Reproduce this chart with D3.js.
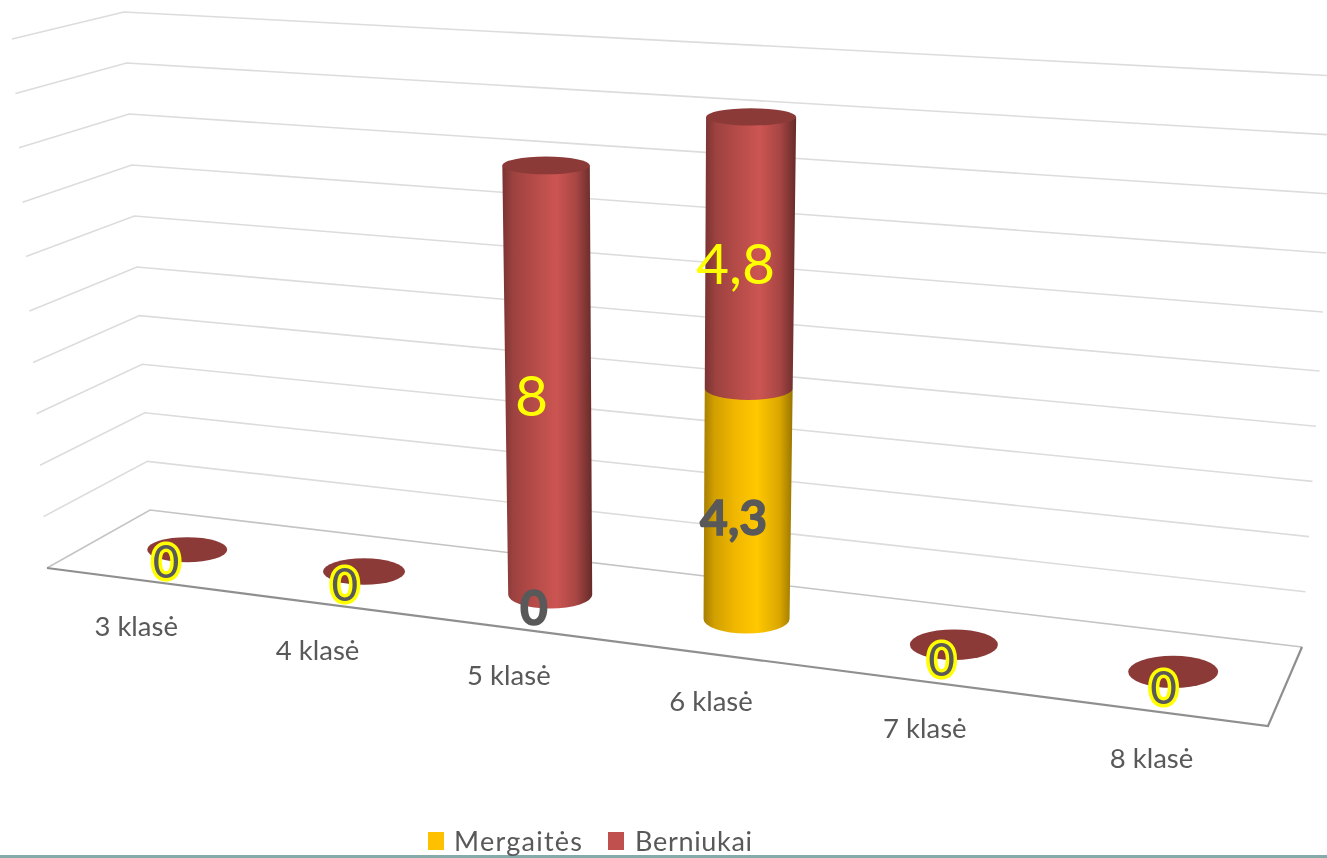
<!DOCTYPE html>
<html lang="en">
<head>
<meta charset="UTF-8" />
<title>Klasės</title>
<style>
  html, body { margin: 0; padding: 0; background: #fff; overflow: hidden; }
  text { font-family: Lato, "Open Sans", sans-serif; }
  #chart { filter: blur(0.45px); }
</style>
</head>
<body>
<svg id="chart" width="1327" height="858"></svg>
<script src="https://d3js.org/d3.v7.min.js"></script>
<script>
const categories = ['3 klasė', '4 klasė', '5 klasė', '6 klasė', '7 klasė', '8 klasė'];
const mergaites = [0, 0, 0, 4.3, 0, 0];
const berniukai = [0, 0, 8, 4.8, 0, 0];
const levels = [0, 1, 2, 3, 4, 5, 6, 7, 8, 9, 10];
const seriesNames = ['Mergaitės', 'Berniukai'];
const decimalComma = d => String(d).replace('.', ',');

const svg = d3.select('#chart');
const defs = svg.append('defs');

// wall corners per level, the walls lean outward a little going up
const backLeftX = d3.scaleLinear().domain([0, 10]).range([150, 124]);
const backLeftY = d3.scaleLinear().domain([0, 5, 10]).range([510, 267, 12]);
const sideLeftX = d3.scaleLinear().domain([0, 10]).range([47, 12]);
const sideLeftY = d3.scaleLinear().domain([0, 5, 10]).range([568, 311, 39]);
const backRightX = d3.scaleLinear().domain([0, 10]).range([1302, 1337]);
const backRightY = d3.scaleLinear().domain([0, 5, 10]).range([647, 371, 76]);

// floor is a quad, map unit square onto it
const quad = [[47, 568], [1268, 726], [1302, 647], [150, 510]];
function makeFloor([p0, p1, p2, p3]) {
  const dx1 = p1[0] - p2[0], dx2 = p3[0] - p2[0], sx = p0[0] - p1[0] + p2[0] - p3[0];
  const dy1 = p1[1] - p2[1], dy2 = p3[1] - p2[1], sy = p0[1] - p1[1] + p2[1] - p3[1];
  const det = dx1 * dy2 - dx2 * dy1;
  const g = (sx * dy2 - dx2 * sy) / det;
  const h = (dx1 * sy - sx * dy1) / det;
  const a = p1[0] - p0[0] + g * p1[0], b = p3[0] - p0[0] + h * p3[0];
  const d = p1[1] - p0[1] + g * p1[1], e = p3[1] - p0[1] + h * p3[1];
  return (u, v) => {
    const w = g * u + h * v + 1;
    return [(a * u + b * v + p0[0]) / w + 2, (d * u + e * v + p0[1]) / w + 1];
  };
}
const floor = makeFloor(quad);
const xBand = d3.scaleBand().domain(categories).range([0, 1]);
const uOf = c => xBand(c) + xBand.bandwidth() / 2;

// pixels per unit depends on how close the foot is to the viewer,
// upper units also come out a little taller than lower ones
const unitPx = d3.scaleLinear().domain([510, 647]).range([47.3, 53.6]);
const lean = 0.0052;
const grow = 0.006;
const lift = ([x, y], val) => [x + (x - 650) * lean * val, y - unitPx(y) * (val + grow * val * val)];

const rx0 = d3.scaleLinear().domain([0, 5]).range([40, 45]);
const ry0 = d3.scaleLinear().domain([0, 5]).range([12.5, 16]);
const radius = (i, val) => [rx0(i) * (1 + lean * val), ry0(i) * (1 - 0.045 * val)];

// gridlines
const grid = svg.append('g').attr('fill', 'none').attr('stroke-width', 1.6);
grid.selectAll('path').data(levels).join('path')
  .attr('d', d => d3.line()([
    [sideLeftX(d), sideLeftY(d)], [backLeftX(d), backLeftY(d)], [backRightX(d), backRightY(d)]
  ]))
  .attr('stroke', d => d === 0 ? '#c4c4c4' : '#dcdcdc');

// floor edges
svg.append('path').attr('fill', 'none').attr('stroke', '#8f8f8f').attr('stroke-width', 2.2)
  .attr('d', d3.line()([quad[0], quad[1], quad[2]]));

// cylinders
function shade(id, stops) {
  const g = defs.append('linearGradient').attr('id', id);
  stops.forEach(([o, c]) => g.append('stop').attr('offset', o).attr('stop-color', c));
}
shade('red', [[0, '#7a3331'], [0.12, '#9c4240'], [0.35, '#b54b48'], [0.6, '#cc5552'], [0.82, '#a84644'], [1, '#652b29']]);
shade('gold', [[0, '#a67e00'], [0.12, '#d19f00'], [0.35, '#f0b700'], [0.6, '#ffc800'], [0.85, '#dba700'], [1, '#9a7600']]);
const sideFill = { Mergaitės: 'url(#gold)', Berniukai: 'url(#red)' };

const bars = svg.append('g');
categories.forEach((c, i) => {
  const foot = floor(uOf(c), 0.5);
  const total = mergaites[i] + berniukai[i];
  if (total === 0) {
    const [rx, ry] = radius(i, 0);
    bars.append('ellipse').attr('cx', foot[0]).attr('cy', foot[1]).attr('rx', rx).attr('ry', ry).attr('fill', '#8c3a38');
    return;
  }
  // lower segment first, the upper one hangs over it with its front arc
  const segs = [
    { name: 'Mergaitės', from: 0, to: mergaites[i], v: mergaites[i] },
    { name: 'Berniukai', from: mergaites[i], to: total, v: berniukai[i] }
  ];
  segs.filter(s => s.v > 0).forEach(s => {
    const [bx, by] = lift(foot, s.from), [tx, ty] = lift(foot, s.to);
    const [brx, bry] = radius(i, s.from), [trx] = radius(i, s.to);
    bars.append('path').attr('fill', sideFill[s.name]).attr('d',
      `M${tx - trx},${ty}L${bx - brx},${by}A${brx},${bry} 0 0 0 ${bx + brx},${by}L${tx + trx},${ty}Z`);
  });
  const [tx, ty] = lift(foot, total), [trx, tryy] = radius(i, total);
  bars.append('ellipse').attr('cx', tx).attr('cy', ty).attr('rx', trx).attr('ry', tryy).attr('fill', '#8c3a38');
});

// data labels, sit a bit in front of the cylinder axis
const labels = svg.append('g').attr('text-anchor', 'middle');
categories.forEach((c, i) => {
  const spot = floor(uOf(c), 0.3);
  const m = mergaites[i], b = berniukai[i];
  if (m === 0 && b === 0) {
    labels.append('text').attr('x', spot[0] - 1).attr('y', spot[1]).attr('dy', '0.36em')
      .attr('font-size', 46).attr('fill', '#595959').attr('stroke', '#ffff00').attr('stroke-width', 7)
      .attr('paint-order', 'stroke').text(0);
    return;
  }
  const mp = lift(spot, m / 2);
  labels.append('text').attr('x', mp[0]).attr('y', mp[1]).attr('dy', '0.36em')
    .attr('font-size', 48).attr('font-weight', 700).attr('fill', '#595959')
    .attr('stroke', '#595959').attr('stroke-width', 1.5).text(decimalComma(m));
  const bp = lift(spot, m + b / 2);
  labels.append('text').attr('x', bp[0]).attr('y', bp[1]).attr('dy', '0.36em')
    .attr('font-size', 57).attr('fill', '#ffff00').text(decimalComma(b));
});

// category labels under the front edge
svg.append('g').attr('text-anchor', 'middle').attr('fill', '#595959').attr('font-size', 27.5)
  .selectAll('text').data(categories).join('text')
  .attr('x', d => floor(uOf(d), 0)[0])
  .attr('y', d => floor(uOf(d), 0)[1] + 56)
  .text(d => d);

// legend
const legendX = d3.scaleOrdinal().domain(seriesNames).range([428, 608]);
const legendColor = d3.scaleOrdinal().domain(seriesNames).range(['#ffc000', '#c0504d']);
const legendWidth = d3.scaleOrdinal().domain(seriesNames).range([128, 117]);
svg.append('rect').attr('x', 0).attr('y', 855).attr('width', 1327).attr('height', 3).attr('fill', '#84aaa9');
const legend = svg.append('g').selectAll('g').data(seriesNames).join('g')
  .attr('transform', d => `translate(${legendX(d)},0)`);
legend.append('rect').attr('y', 832).attr('width', 16).attr('height', 18).attr('fill', d => legendColor(d));
legend.append('text').attr('x', d => d === 'Mergaitės' ? 26 : 27).attr('y', 851)
  .attr('font-size', 27).attr('textLength', d => legendWidth(d)).attr('lengthAdjust', 'spacing')
  .attr('fill', '#595959').text(d => d);
</script>
</body>
</html>
